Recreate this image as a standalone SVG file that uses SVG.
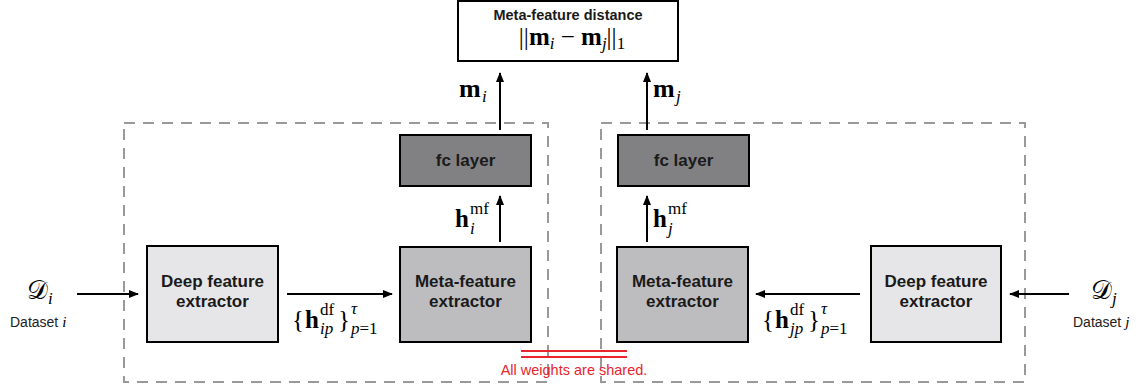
<svg xmlns="http://www.w3.org/2000/svg" width="1145" height="389" viewBox="0 0 1145 389">
<style>
.box{stroke:#000;stroke-width:2}
.dark{fill:#818184}
.mid{fill:#bdbdc0}
.light{fill:#e6e6e8}
.lbl{font-family:"Liberation Sans",Arial,sans-serif;font-weight:bold;font-size:17px;fill:#1a1a1a;text-anchor:middle}
.math{font-family:"Liberation Serif","DejaVu Serif",serif;font-size:25px;fill:#000}
.b{font-weight:bold}
.it{font-style:italic}
.sm{font-size:17px}
.dash{fill:none;stroke:#999;stroke-width:2;stroke-dasharray:11 8}
.conn line{stroke:#000;stroke-width:2;marker-end:url(#ah)}
.cap{font-family:"Liberation Sans",Arial,sans-serif;font-size:14px;fill:#222}
</style>
<defs>
<marker id="ah" markerUnits="userSpaceOnUse" markerWidth="10" markerHeight="8" refX="9" refY="4" orient="auto">
<path d="M0,0 L10,4 L0,8 Z" fill="#000"/>
</marker>
</defs>
<rect width="1145" height="389" fill="#fff"/>

<g id="module-i"><rect class="dash" x="124" y="123" width="424" height="259"/></g>
<g id="module-j"><rect class="dash" x="601" y="123" width="424" height="259"/></g>

<g id="meta-distance">
<rect class="box" x="458" y="1" width="220" height="60" fill="#fff"/>
<text class="lbl" x="568" y="20" style="font-size:14.5px">Meta-feature distance</text>
<text class="math" x="572" y="45" text-anchor="middle">||<tspan class="b">m</tspan><tspan class="it sm" dy="4">i</tspan><tspan dy="-4"> − </tspan><tspan class="b">m</tspan><tspan class="it sm" dy="4">j</tspan><tspan dy="-4">||</tspan><tspan class="sm" dy="4">1</tspan></text>
</g>

<g id="fc-i"><rect class="box dark" x="400" y="135" width="131" height="51"/><text class="lbl" x="465.5" y="166">fc layer</text></g>
<g id="fc-j"><rect class="box dark" x="618" y="135" width="131" height="51"/><text class="lbl" x="683.5" y="166">fc layer</text></g>

<g id="mfe-i"><rect class="box mid" x="400" y="247" width="131" height="95"/><text class="lbl" x="465.5" y="287">Meta-feature</text><text class="lbl" x="465.5" y="307">extractor</text></g>
<g id="mfe-j"><rect class="box mid" x="617" y="247" width="131" height="95"/><text class="lbl" x="682.5" y="287">Meta-feature</text><text class="lbl" x="682.5" y="307">extractor</text></g>

<g id="dfe-i"><rect class="box light" x="147" y="246" width="131" height="96"/><text class="lbl" x="212.5" y="287">Deep feature</text><text class="lbl" x="212.5" y="307">extractor</text></g>
<g id="dfe-j"><rect class="box light" x="871" y="246" width="130" height="96"/><text class="lbl" x="936" y="287">Deep feature</text><text class="lbl" x="936" y="307">extractor</text></g>

<g id="connectors" class="conn">
<line x1="77" y1="294" x2="138" y2="294"/>
<line x1="287" y1="294" x2="392" y2="294"/>
<line x1="500" y1="242" x2="500" y2="196"/>
<line x1="500" y1="130" x2="500" y2="73"/>
<line x1="1069" y1="294" x2="1010" y2="294"/>
<line x1="860" y1="294" x2="756" y2="294"/>
<line x1="647" y1="242" x2="647" y2="196"/>
<line x1="647" y1="130" x2="647" y2="73"/>
</g>

<g id="labels">
<text class="math" x="27" y="299" style="font-size:26px">𝒟<tspan class="it sm" dy="5">i</tspan></text>
<text class="cap" x="10" y="327">Dataset <tspan class="math it" style="font-size:15px">i</tspan></text>
<text class="math" x="1091" y="299" style="font-size:26px">𝒟<tspan class="it sm" dy="5">j</tspan></text>
<text class="cap" x="1073" y="327">Dataset <tspan class="math it" style="font-size:15px">j</tspan></text>

<text class="math b" x="459" y="97" style="font-size:26px">m</text><text class="math it sm" x="482" y="102">i</text>
<text class="math b" x="653" y="97" style="font-size:26px">m</text><text class="math it sm" x="676" y="102">j</text>

<text class="math b" x="455" y="227">h</text><text class="math sm" x="470" y="214">mf</text><text class="math it sm" x="470" y="234">i</text>
<text class="math b" x="653" y="227">h</text><text class="math sm" x="668" y="214">mf</text><text class="math it sm" x="668" y="234">j</text>

<text class="math" x="292" y="328">{</text><text class="math b" x="305" y="328">h</text><text class="math sm" x="320" y="315">df</text><text class="math it sm" x="320" y="334">ip</text><text class="math" x="338" y="328">}</text><text class="math it sm" x="351" y="314">τ</text><text class="math sm" x="351" y="334"><tspan class="it">p</tspan>=1</text>

<text class="math" x="762" y="328">{</text><text class="math b" x="775" y="328">h</text><text class="math sm" x="790" y="315">df</text><text class="math it sm" x="790" y="334">jp</text><text class="math" x="808" y="328">}</text><text class="math it sm" x="821" y="314">τ</text><text class="math sm" x="821" y="334"><tspan class="it">p</tspan>=1</text>
</g>

<g id="shared-note">
<line x1="521" y1="351" x2="627" y2="351" stroke="#e8262d" stroke-width="2"/>
<line x1="521" y1="357" x2="627" y2="357" stroke="#e8262d" stroke-width="2"/>
<text x="574" y="375" text-anchor="middle" font-family="Liberation Sans, Arial, sans-serif" font-size="14.5" fill="#e8262d">All weights are shared.</text>
</g>
</svg>
